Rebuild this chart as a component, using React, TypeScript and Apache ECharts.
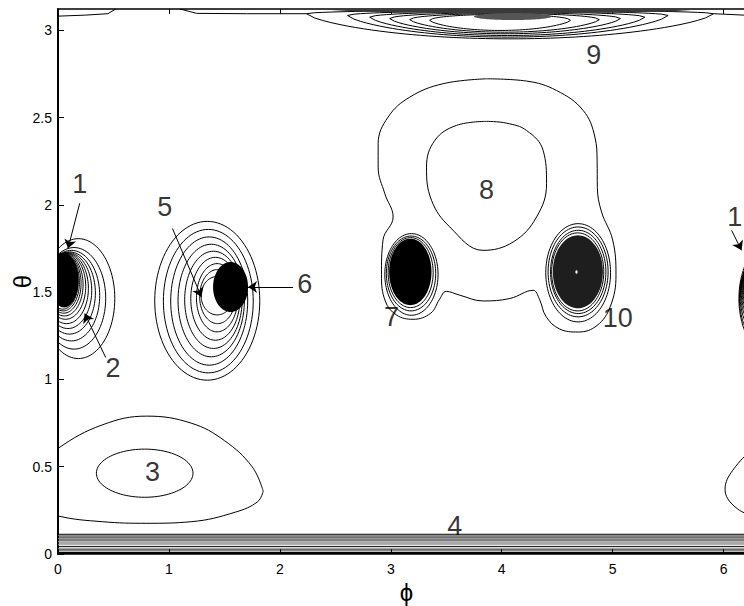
import React, { useEffect, useRef } from "react";
import * as echarts from "echarts";

const TWO_PI = 2 * Math.PI;
const THETA_MAX = 3.123;

// axis ticks
const phiTicks = [0, 1, 2, 3, 4, 5, 6];
const thetaTicks = [0, 0.5, 1, 1.5, 2, 2.5, 3];

// contour rings, each [phiLeft, phiRight, thetaBottom, thetaTop]
const rings12 = [
  [-0.145, 0.512, 1.12, 1.807],
  [-0.14, 0.43, 1.174, 1.756],
  [-0.135, 0.376, 1.221, 1.74],
  [-0.13, 0.337, 1.26, 1.731],
  [-0.125, 0.304, 1.292, 1.727],
  [-0.12, 0.274, 1.32, 1.725],
  [-0.115, 0.25, 1.345, 1.723],
  [-0.11, 0.226, 1.364, 1.722],
  [-0.105, 0.208, 1.38, 1.721],
  [-0.1, 0.193, 1.393, 1.72],
  [-0.095, 0.181, 1.403, 1.72],
];
const rings56 = [
  [0.872, 1.819, 0.996, 1.906],
  [0.95, 1.76, 1.038, 1.86],
  [1.016, 1.71, 1.082, 1.817],
  [1.082, 1.68, 1.13, 1.775],
  [1.142, 1.66, 1.178, 1.735],
  [1.197, 1.64, 1.225, 1.7],
  [1.248, 1.62, 1.273, 1.664],
  [1.277, 1.6, 1.32, 1.63],
  [1.29, 1.58, 1.37, 1.59],
];
const rings7 = [
  [2.946, 3.426, 1.368, 1.836],
  [2.96, 3.405, 1.393, 1.822],
  [2.976, 3.382, 1.412, 1.813],
];
const rings10 = [
  [4.397, 4.981, 1.33, 1.893],
  [4.418, 4.959, 1.359, 1.874],
  [4.44, 4.939, 1.378, 1.855],
  [4.45, 4.92, 1.393, 1.84],
];
const rings3 = [[0.346, 1.217, 0.325, 0.601]];

// filled dense cores [phiLeft, phiRight, thetaBottom, thetaTop]
const cores = [
  [-0.075, 0.185, 1.413, 1.723],
  [1.398, 1.713, 1.387, 1.673],
  [2.985, 3.367, 1.426, 1.807],
  [4.461, 4.912, 1.408, 1.826],
];
const coreColors = ["#000", "#000", "#000", "#1e1e1e"];

// free-form contour lines [phi, theta]
const contour3Outer = [
  [1.85, 0.36], [1.75, 0.5], [1.5, 0.65], [1.2, 0.75], [0.8, 0.79], [0.4, 0.74],
  [0.0, 0.605], [-0.2, 0.48], [-0.27, 0.37], [-0.18, 0.27], [0.0, 0.218],
  [0.4, 0.185], [0.8, 0.176], [1.2, 0.185], [1.6, 0.24], [1.8, 0.3], [1.85, 0.36],
];
const contour8Inner = [
  [3.863, 2.479], [3.592, 2.456], [3.397, 2.37], [3.322, 2.217], [3.367, 2.027],
  [3.532, 1.874], [3.832, 1.74], [4.103, 1.788], [4.314, 1.931], [4.404, 2.122],
  [4.373, 2.313], [4.224, 2.427], [4.043, 2.469], [3.863, 2.479],
];
const contour8Outer = [
  [3.863, 2.723], [3.472, 2.695], [3.171, 2.618], [2.976, 2.504], [2.886, 2.351],
  [2.886, 2.217], [2.946, 2.065], [3.021, 1.931], [2.93, 1.8], [2.916, 1.6],
  [2.95, 1.45], [3.05, 1.37], [3.201, 1.345], [3.36, 1.38], [3.44, 1.46],
  [3.5, 1.505], [3.622, 1.483], [3.832, 1.45], [4.073, 1.464], [4.283, 1.511],
  [4.34, 1.46], [4.4, 1.36], [4.52, 1.29], [4.69, 1.272], [4.86, 1.31],
  [4.98, 1.42], [5.03, 1.6], [5.0, 1.8], [4.9, 1.96], [4.862, 2.1],
  [4.86, 2.25], [4.84, 2.389], [4.734, 2.542], [4.494, 2.656], [4.224, 2.71], [3.863, 2.723],
];

// top lens contours (label 9)
const lensLeft = [2.24, 2.61, 2.81, 2.99, 3.17, 3.35];
const lensRight = [5.91, 5.5, 5.29, 5.07, 4.88, 4.62];
const lensTip = [3.096, 3.086, 3.076, 3.068, 3.062, 3.058];
const lensBottom = [2.952, 2.962, 2.971, 2.981, 2.99, 3.0];
const lensUpper = [3.116, 3.112, 3.107, 3.102, 3.097, 3.092];
const topLines = [
  [[0, 3.082], [0.25, 3.088], [0.45, 3.096], [0.52, 3.123]],
  [[1.1, 3.123], [1.25, 3.098], [1.7, 3.096], [2.24, 3.096]],
  [[5.91, 3.096], [6.283, 3.085]],
];

// bottom band contours (label 4)
const bandLevels = [0.113, 0.105, 0.097, 0.088, 0.08, 0.073, 0.063, 0.053, 0.042, 0.03, 0.023];
const bandColors = ["#000", "#777", "#000", "#888", "#000", "#999", "#555", "#999", "#000", "#888", "#000"];

// annotation labels and arrows
const labelText = ["1", "2", "3", "4", "5", "6", "7", "8", "9", "10", "1"];
const labelPhi = [0.196, 0.496, 0.851, 3.577, 0.962, 2.224, 3.006, 3.863, 4.83, 5.047, 6.1];
const labelTheta = [2.122, 1.063, 0.471, 0.16, 1.988, 1.55, 1.359, 2.084, 2.862, 1.351, 1.931];
const arrows = [
  [[0.196, 2.01], [0.09, 1.75]],
  [[0.43, 1.126], [0.241, 1.378]],
  [[1.032, 1.865], [1.293, 1.473]],
  [[2.119, 1.53], [1.713, 1.53]],
  [[6.072, 1.855], [6.162, 1.74]],
];

function ellipse(e: number[], shift = 0, n = 96) {
  const [l, r, b, t] = e;
  const cx = (l + r) / 2 + shift, cy = (b + t) / 2, rx = (r - l) / 2, ry = (t - b) / 2;
  const pts: number[][] = [];
  for (let i = 0; i <= n; i++) {
    const a = (i / n) * TWO_PI;
    pts.push([cx + rx * Math.cos(a), cy + ry * Math.sin(a)]);
  }
  return pts;
}

function lens(k: number) {
  const L = lensLeft[k], R = lensRight[k], T = lensTip[k], B = lensBottom[k], U = lensUpper[k];
  const pts: number[][] = [];
  const n = 50;
  for (let i = 0; i <= n; i++) {
    const u = (2 * i) / n - 1;
    pts.push([L + ((R - L) * i) / n, T - (T - B) * Math.pow(1 - u * u, 0.7)]);
  }
  for (let i = n; i >= 0; i--) {
    const u = (2 * i) / n - 1;
    pts.push([L + ((R - L) * i) / n, T + (U - T) * Math.pow(1 - u * u, 0.5)]);
  }
  return pts;
}

function shifted(pts: number[][], s: number) {
  return pts.map((p) => [p[0] + s, p[1]]);
}

export default function App() {
  const ref = useRef<HTMLDivElement>(null);
  useEffect(() => {
    if (!ref.current) return;
    const chart = echarts.init(ref.current, null, { renderer: "svg" });

    const lineSeries: any[] = [];
    const addLine = (pts: number[][], color = "#000", width = 1, smooth: any = false) => {
      lineSeries.push({
        type: "line",
        data: pts,
        showSymbol: false,
        symbol: "none",
        smooth,
        clip: true,
        silent: true,
        z: 2,
        lineStyle: { color, width },
      });
    };

    rings12.forEach((r) => {
      addLine(ellipse(r));
      addLine(ellipse(r, TWO_PI));
    });
    rings56.forEach((r) => addLine(ellipse(r)));
    rings7.forEach((r) => addLine(ellipse(r)));
    rings10.forEach((r) => addLine(ellipse(r)));
    rings3.forEach((r) => addLine(ellipse(r)));
    addLine(contour3Outer, "#000", 1, 0.4);
    addLine(shifted(contour3Outer, TWO_PI), "#000", 1, 0.4);
    addLine(contour8Inner, "#000", 1, 0.4);
    addLine(contour8Outer, "#000", 1, 0.4);
    lensLeft.forEach((_, k) => addLine(lens(k), "#000", 1));
    topLines.forEach((t) => addLine(t, "#000", 1));
    bandLevels.forEach((lv, i) =>
      addLine([[0, lv], [TWO_PI, lv]], bandColors[i], 1)
    );

    // filled polygons
    const fills: { pts: number[][]; color: string }[] = [];
    cores.forEach((c, i) => {
      fills.push({ pts: ellipse(c), color: coreColors[i] });
      if (i === 0) fills.push({ pts: ellipse(c, TWO_PI), color: coreColors[i] });
    });
    fills.push({ pts: ellipse([4.664, 4.684, 1.606, 1.626]), color: "#fff" });
    fills.push({ pts: [[0, 0], [TWO_PI, 0], [TWO_PI, 0.013], [0, 0.013]], color: "#000" });
    fills.push({
      pts: [[2.3, 3.123], [5.85, 3.123], [5.5, 3.108], [4.8, 3.1], [4.1, 3.095], [3.4, 3.1], [2.7, 3.108]],
      color: "#3a3a3a",
    });
    fills.push({ pts: ellipse([3.75, 4.45, 3.06, 3.1]), color: "#555" });

    const fillSeries = {
      type: "custom",
      coordinateSystem: "cartesian2d",
      silent: true,
      z: 5,
      data: fills.map((_, i) => [i]),
      renderItem: (params: any, api: any) => {
        const f = fills[params.dataIndex];
        const cs = params.coordSys;
        const points = f.pts.map((p) => {
          const c = api.coord(p);
          return [
            Math.min(Math.max(c[0], cs.x), cs.x + cs.width),
            Math.min(Math.max(c[1], cs.y), cs.y + cs.height),
          ];
        });
        return { type: "polygon", shape: { points }, style: { fill: f.color, stroke: null } };
      },
    };

    const labelSeries = {
      type: "scatter",
      symbolSize: 1,
      silent: true,
      z: 10,
      itemStyle: { color: "rgba(0,0,0,0)" },
      data: labelText.map((t, i) => ({
        value: [labelPhi[i], labelTheta[i]],
        label: {
          show: true,
          position: "inside",
          formatter: t,
          fontSize: 27,
          color: "#000",
          fontFamily: "Liberation Sans, Arial, sans-serif",
        },
      })),
    };

    const arrowSeries = {
      type: "lines",
      coordinateSystem: "cartesian2d",
      silent: true,
      z: 10,
      symbol: ["none", "arrow"],
      symbolSize: 9,
      lineStyle: { color: "#000", width: 1, opacity: 1 },
      data: arrows.map((a) => ({ coords: a })),
    };

    const font = "Liberation Sans, Arial, sans-serif";
    chart.setOption({
      animation: false,
      backgroundColor: "#fff",
      grid: {
        left: 58,
        top: 9,
        width: 697,
        height: 545,
        containLabel: false,
        outerBoundsMode: "none",
      },
      xAxis: [
        {
          type: "value",
          min: 0,
          max: TWO_PI,
          interval: 1,
          position: "bottom",
          axisLine: { show: true, onZero: false, lineStyle: { color: "#000", width: 1.5 } },
          axisTick: { show: true, inside: true, length: 5, lineStyle: { color: "#000" } },
          axisLabel: {
            color: "#000",
            fontSize: 14,
            fontFamily: font,
            margin: 8,
            showMaxLabel: false,
            formatter: (v: number) => (phiTicks.includes(v) ? String(v) : ""),
          },
          splitLine: { show: false },
          name: "ϕ",
          nameLocation: "middle",
          nameGap: 26,
          nameMoveOverlap: false,
          nameTextStyle: { fontSize: 24, color: "#000", fontFamily: font },
        },
        {
          type: "value",
          min: 0,
          max: TWO_PI,
          interval: 1,
          position: "top",
          axisLine: { show: true, onZero: false, lineStyle: { color: "#000", width: 1.5 } },
          axisTick: { show: true, inside: true, length: 5, lineStyle: { color: "#000" } },
          axisLabel: { show: false },
          splitLine: { show: false },
        },
      ],
      yAxis: [
        {
          type: "value",
          min: 0,
          max: THETA_MAX,
          interval: 0.5,
          position: "left",
          axisLine: { show: true, onZero: false, lineStyle: { color: "#000", width: 2 } },
          axisTick: { show: true, inside: true, length: 6, lineStyle: { color: "#000" } },
          axisLabel: {
            color: "#000",
            fontSize: 14,
            fontFamily: font,
            margin: 6,
            showMaxLabel: false,
            formatter: (v: number) => (thetaTicks.includes(v) ? String(v) : ""),
          },
          splitLine: { show: false },
          name: "θ",
          nameLocation: "middle",
          nameRotate: 90,
          nameGap: 24,
          nameMoveOverlap: false,
          nameTextStyle: { fontSize: 24, color: "#000", fontFamily: font },
        },
        {
          type: "value",
          min: 0,
          max: THETA_MAX,
          interval: 0.5,
          position: "right",
          axisLine: { show: true, onZero: false, lineStyle: { color: "#000", width: 1.5 } },
          axisTick: { show: true, inside: true, length: 5 },
          axisLabel: { show: false },
          splitLine: { show: false },
        },
      ],
      series: [...lineSeries, fillSeries, arrowSeries, labelSeries],
    });
    return () => chart.dispose();
  }, []);
  return (
    <div
      ref={ref}
      style={{ position: "absolute", left: 0, top: 0, width: 744, height: 606, background: "#fff" }}
    />
  );
}
